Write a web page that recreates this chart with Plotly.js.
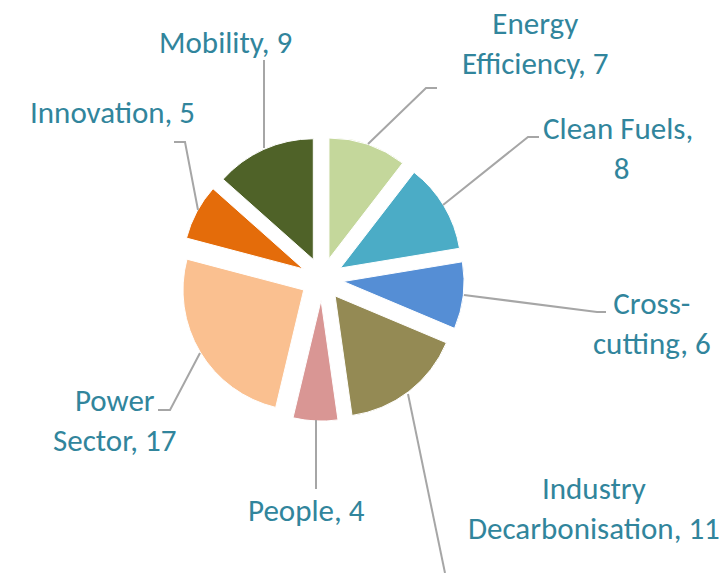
<!DOCTYPE html>
<html>
<head>
<meta charset="utf-8">
<script src="https://cdn.plot.ly/plotly-3.0.1.min.js"></script>
<style>
  html, body { margin: 0; padding: 0; background: #ffffff; }
  #chart { width: 723px; height: 573px; }
</style>
</head>
<body>
<div id="chart"></div>
<script>
// ---- data ----
const categories = ["Energy Efficiency", "Clean Fuels", "Cross-cutting", "Industry Decarbonisation",
                    "People", "Power Sector", "Innovation", "Mobility"];
const values = [7, 8, 6, 11, 4, 17, 5, 9];
// label line breaks as shown in the reference
const labelLines = [
  ["Energy", "Efficiency, "],
  ["Clean Fuels, ", ""],
  ["Cross-", "cutting, "],
  ["Industry", "Decarbonisation, "],
  ["People, "],
  ["Power", "Sector, "],
  ["Innovation, "],
  ["Mobility, "]
];
const colors = ["#C4D79B", "#4BACC6", "#558ED5", "#948A54", "#D99694", "#FAC090", "#E46C0A", "#4F6228"];

// ---- layout helpers (pixel -> paper) ----
const W = 723, H = 573;
const px = x => x / W;
const py = y => 1 - y / H;

// label anchor positions (pixels, centre of text block)
const labelPos = [
  [535, 43], [621, 148], [652, 322.5], [594, 507.5],
  [306.5, 510], [115, 420], [112, 112], [225.5, 42]
];
// leader line polylines (pixels)
const leaders = [
  [[437, 88], [426, 88], [368, 144]],
  [[539, 137], [528, 137], [443, 205]],
  [[606, 312], [597, 312], [464, 295]],
  [[408, 394], [445, 573]],
  [[316, 420], [316, 489]],
  [[158, 410], [170, 410], [200, 353]],
  [[174, 142], [185, 142], [198, 210]],
  [[264, 60], [264, 148]]
];

const labelText = categories.map((c, i) => {
  const lines = labelLines[i].slice();
  if (lines.length === 2 && lines[1] === "") lines[1] = String(values[i]);
  else lines[lines.length - 1] = lines[lines.length - 1] + values[i];
  return lines.join("<br>");
});

const trace = {
  type: "pie",
  labels: categories,
  values: values,
  sort: false,
  direction: "clockwise",
  rotation: 0,
  pull: values.map(() => 0.177),
  textinfo: "none",
  hoverinfo: "label+value",
  marker: { colors: colors, line: { color: "#ffffff", width: 1 } },
  domain: { x: [0.2489, 0.6420], y: [0.2651, 0.7611] },
  showlegend: false
};

const fontFam = "Carlito, Lato, 'Open Sans', sans-serif";

const annotations = labelText.map((t, i) => ({
  x: px(labelPos[i][0]), y: py(labelPos[i][1]),
  xref: "paper", yref: "paper",
  xanchor: "center", yanchor: "middle",
  text: t, showarrow: false, align: "center",
  font: { family: fontFam, size: 31, color: "#31859C" }
}));

const shapes = leaders.map(pts => ({
  type: "path",
  xref: "paper", yref: "paper",
  path: pts.map((p, k) => (k === 0 ? "M" : "L") + px(p[0]) + "," + py(p[1])).join(" "),
  line: { color: "#A6A6A6", width: 2 }
}));

const layout = {
  width: W, height: H,
  margin: { l: 0, r: 0, t: 0, b: 0 },
  paper_bgcolor: "#ffffff",
  plot_bgcolor: "#ffffff",
  annotations: annotations,
  shapes: shapes,
  showlegend: false
};

Plotly.newPlot("chart", [trace], layout, { displayModeBar: false, staticPlot: true });
</script>
</body>
</html>
